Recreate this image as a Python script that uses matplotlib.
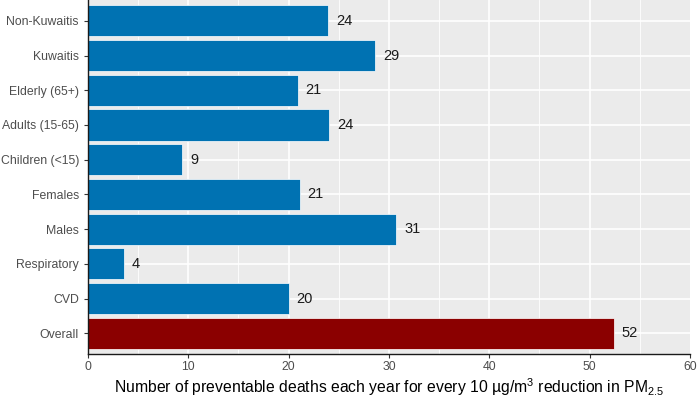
import matplotlib.pyplot as plt
import numpy as np

plt.rcParams['font.family'] = ['Liberation Sans', 'DejaVu Sans']
plt.rcParams['mathtext.fontset'] = 'custom'
plt.rcParams['mathtext.rm'] = 'Liberation Sans'
plt.rcParams['mathtext.it'] = 'Liberation Sans'

# bottom to top, as drawn
groups = ['Overall', 'CVD', 'Respiratory', 'Males', 'Females', 'Children (<15)',
          'Adults (15-65)', 'Elderly (65+)', 'Kuwaitis', 'Non-Kuwaitis']
deaths = [52.4, 20.0, 3.6, 30.7, 21.1, 9.4, 24.0, 20.9, 28.6, 23.9]
bar_colors = ['#8B0000'] + ['#0072B2'] * 9

fig = plt.figure(figsize=(6.98, 3.97), dpi=100)
ax = fig.add_axes([0.126, 0.108, 0.8625, 0.892])
ax.set_facecolor('#EBEBEB')

ypos = np.arange(1, len(groups) + 1)

# grid, ggplot-like
for v in range(5, 60, 10):
    ax.axvline(v, color='white', lw=0.6, zorder=0)
for v in range(10, 60, 10):
    ax.axvline(v, color='white', lw=1.2, zorder=0)
for y in ypos:
    ax.axhline(y, color='white', lw=1.2, zorder=0)

bars = ax.barh(ypos, deaths, height=0.9, color=bar_colors,
               edgecolor='white', linewidth=0.5, zorder=2)
for y, d in zip(ypos, deaths):
    ax.text(d + 0.8, y, '%d' % round(d), va='center', ha='left',
            fontsize=10.5, color='#1a1a1a', zorder=3)

ax.set_xlim(0, 60)
ax.set_ylim(0.4, len(groups) + 0.6)
ax.set_xticks(range(0, 61, 10))
ax.set_yticks(ypos)
ax.set_yticklabels(groups)
ax.tick_params(axis='both', colors='#333333', labelcolor='#4D4D4D',
               labelsize=8.8, length=3, width=0.8)
ax.tick_params(axis='x', pad=2)

for side in ['top', 'right']:
    ax.spines[side].set_visible(False)
for side in ['left', 'bottom']:
    ax.spines[side].set_color('#1a1a1a')
    ax.spines[side].set_linewidth(1.0)

ax.set_xlabel(r'Number of preventable deaths each year for every 10 µg/m$^3$ reduction in PM$_{2.5}$',
              fontsize=11.3, color='black', labelpad=2)

fig.savefig('out.png', dpi=100)
